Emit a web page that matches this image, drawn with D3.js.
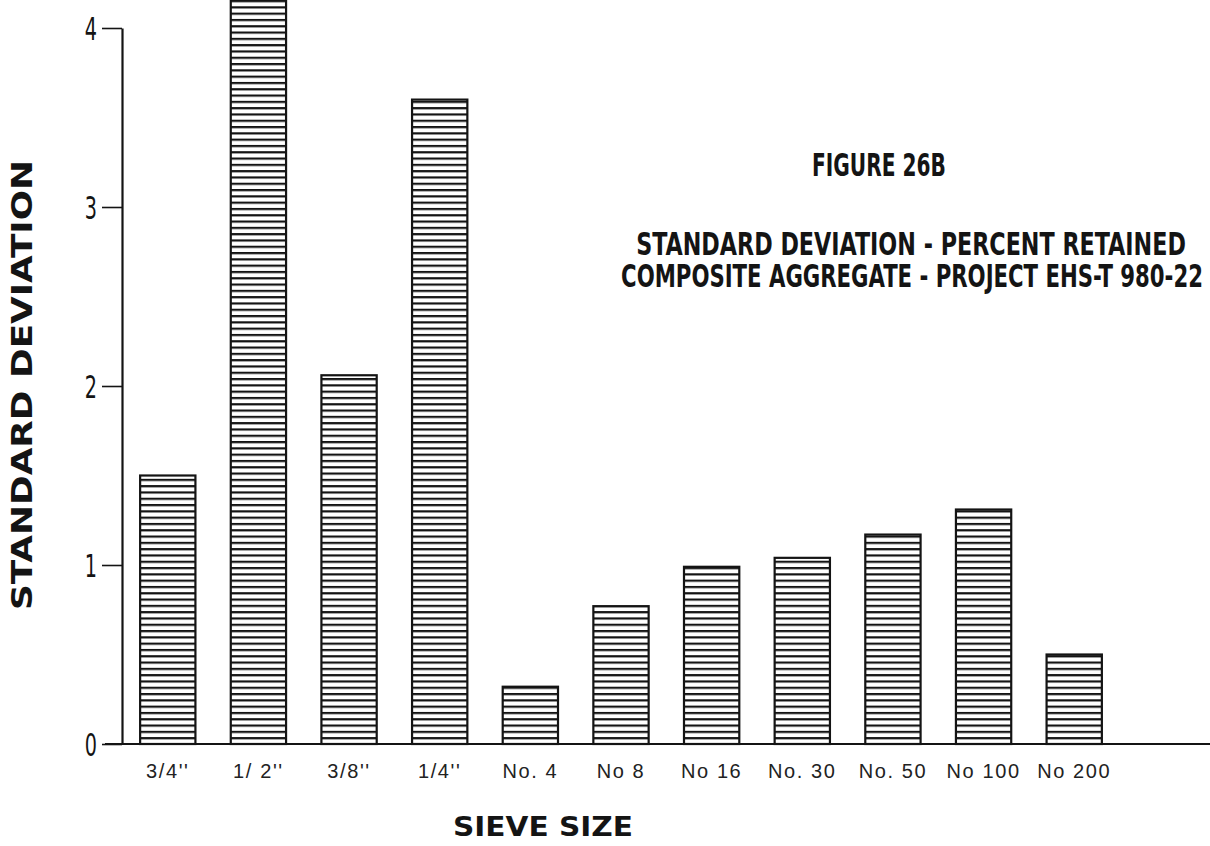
<!DOCTYPE html>
<html>
<head>
<meta charset="utf-8">
<script src="https://cdn.jsdelivr.net/npm/d3@7"></script>
<style>
  html, body { margin: 0; padding: 0; background: #fff; }
  svg { display: block; }
</style>
</head>
<body>
<svg id="chart" width="1210" height="846"></svg>
<script>
// ---- data ----
const categories = ["3/4''", "1/ 2''", "3/8''", "1/4''", "No. 4", "No 8", "No 16", "No. 30", "No. 50", "No 100", "No 200"];
const stdDev = [1.50, 4.17, 2.06, 3.60, 0.32, 0.77, 0.99, 1.04, 1.17, 1.31, 0.50];
const yTicks = [0, 1, 2, 3, 4];
const titleLines = ["FIGURE 26B", "STANDARD DEVIATION - PERCENT RETAINED", "COMPOSITE AGGREGATE - PROJECT EHS-T 980-22"];
const yLabel = "STANDARD DEVIATION";
const xLabel = "SIEVE SIZE";

// ---- setup ----
const svg = d3.select("#chart");
const ink = "#141414";
const narrow = "'Liberation Sans Narrow', 'DejaVu Sans Condensed', 'Liberation Sans', sans-serif";

const x = d3.scaleBand().domain(categories).range([122, 1120]).paddingInner(0.39).paddingOuter(0.2);
const y = d3.scaleLinear().domain([0, 4]).range([744, 28]);

// hatch pattern
const defs = svg.append("defs");
const pat = defs.append("pattern").attr("id", "hatch")
  .attr("patternUnits", "userSpaceOnUse").attr("width", 10).attr("height", 6.3);
pat.append("rect").attr("width", 10).attr("height", 6.3).attr("fill", "#fff");
pat.append("rect").attr("y", 0).attr("width", 10).attr("height", 2.2).attr("fill", ink);

// bars
svg.append("g").selectAll("rect").data(stdDev).join("rect")
  .attr("x", (d, i) => x(categories[i]))
  .attr("y", d => y(d))
  .attr("width", x.bandwidth())
  .attr("height", d => y(0) - y(d))
  .attr("fill", "url(#hatch)")
  .attr("stroke", ink).attr("stroke-width", 2.2);

// baseline
svg.append("line").attr("x1", 105).attr("x2", 1210).attr("y1", y(0)).attr("y2", y(0))
  .attr("stroke", ink).attr("stroke-width", 2.2);

// y axis
const yAxis = d3.axisLeft(y).tickValues(yTicks).tickSize(20).tickSizeOuter(0).tickPadding(5).tickFormat(d3.format("d"));
const gy = svg.append("g").attr("transform", "translate(122,0)").call(yAxis);
gy.select(".domain").attr("stroke", ink).attr("stroke-width", 2.2);
gy.selectAll(".tick line").attr("stroke", ink).attr("stroke-width", 1.6);
gy.selectAll(".tick text")
  .attr("font-family", "'DejaVu Sans', sans-serif").attr("font-size", 31).attr("fill", ink)
  .attr("x", 0).attr("dy", "0.36em")
  .attr("transform", "translate(-25,0) scale(0.62,1.02)");

// x tick labels
const xAxis = d3.axisBottom(x).tickSize(0).tickPadding(0);
const gx = svg.append("g").attr("transform", `translate(0,${y(0)})`).call(xAxis);
gx.select(".domain").remove();
gx.selectAll(".tick text").attr("font-family", "'Liberation Sans', Arial, sans-serif")
  .attr("font-size", 20).attr("fill", "#222").attr("y", 34).attr("dy", 0)
  .attr("letter-spacing", 1.6);

// helper: place text horizontally compressed to a target width
function fitText(sel, cx, base, len) {
  sel.attr("x", 0).attr("y", 0).attr("text-anchor", "middle");
  const natural = sel.node().getComputedTextLength();
  const sx = len / natural;
  sel.attr("transform", `translate(${cx},${base}) scale(${sx},1)`);
}

// axis titles
svg.append("text").text(yLabel)
  .attr("transform", "translate(32,385) rotate(-90)")
  .attr("text-anchor", "middle")
  .attr("font-family", "'DejaVu Sans', sans-serif").attr("font-weight", "bold")
  .attr("font-size", 29).attr("fill", ink)
  .attr("textLength", 450).attr("lengthAdjust", "spacingAndGlyphs");

svg.append("text").text(xLabel)
  .attr("x", 543).attr("y", 836).attr("text-anchor", "middle")
  .attr("font-family", "'DejaVu Sans', sans-serif").attr("font-weight", "bold")
  .attr("font-size", 27).attr("fill", ink)
  .attr("textLength", 180).attr("lengthAdjust", "spacingAndGlyphs");

// titles
const titleSpec = [
  {cx: 879, base: 176, len: 134},
  {cx: 911, base: 255, len: 550},
  {cx: 912, base: 287, len: 582}
];
svg.append("g").selectAll("text").data(titleLines).join("text")
  .text(d => d)
  .attr("font-family", narrow).attr("font-weight", "bold")
  .attr("font-size", 32).attr("fill", ink)
  .each(function(d, i) { fitText(d3.select(this), titleSpec[i].cx, titleSpec[i].base, titleSpec[i].len); });
</script>
</body>
</html>
